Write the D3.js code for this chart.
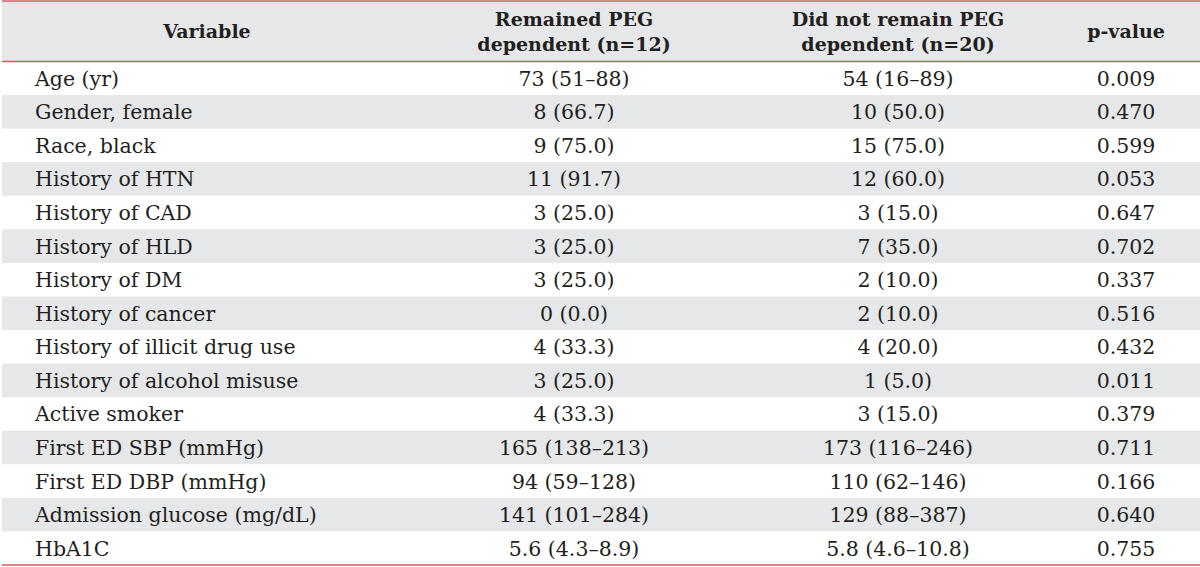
<!DOCTYPE html>
<html>
<head>
<meta charset="utf-8">
<script src="https://cdn.jsdelivr.net/npm/d3@7"></script>
<style>
  html, body { margin: 0; padding: 0; background: #ffffff; }
  svg { display: block; }
  text { font-family: "DejaVu Serif", serif; fill: #231f20; }
</style>
</head>
<body>
<svg id="chart" width="1200" height="567"></svg>
<script>
const headerLines = [
  ["Variable"],
  ["Remained PEG", "dependent (n=12)"],
  ["Did not remain PEG", "dependent (n=20)"],
  ["p-value"]
];
const variables = [
  "Age (yr)", "Gender, female", "Race, black", "History of HTN", "History of CAD",
  "History of HLD", "History of DM", "History of cancer", "History of illicit drug use",
  "History of alcohol misuse", "Active smoker", "First ED SBP (mmHg)", "First ED DBP (mmHg)",
  "Admission glucose (mg/dL)", "HbA1C"
];
const remained = [
  "73 (51–88)", "8 (66.7)", "9 (75.0)", "11 (91.7)", "3 (25.0)", "3 (25.0)", "3 (25.0)",
  "0 (0.0)", "4 (33.3)", "3 (25.0)", "4 (33.3)", "165 (138–213)", "94 (59–128)",
  "141 (101–284)", "5.6 (4.3–8.9)"
];
const notRemained = [
  "54 (16–89)", "10 (50.0)", "15 (75.0)", "12 (60.0)", "3 (15.0)", "7 (35.0)", "2 (10.0)",
  "2 (10.0)", "4 (20.0)", "1 (5.0)", "3 (15.0)", "173 (116–246)", "110 (62–146)",
  "129 (88–387)", "5.8 (4.6–10.8)"
];
const pValues = [
  "0.009", "0.470", "0.599", "0.053", "0.647", "0.702", "0.337", "0.516", "0.432",
  "0.011", "0.379", "0.711", "0.166", "0.640", "0.755"
];

const W = 1200, H = 567;
const left = 2, right = 1200;
const headTop = 1, headBottom = 61.5, tableBottom = 565;
const gray = "#e6e7e8", red = "#d35a5f";
const bodySize = 20.5, headSize = 19;

const svg = d3.select("#chart");

const rows = variables.map((v, i) => ({ i, cells: [v, remained[i], notRemained[i], pValues[i]] }));

const y = d3.scaleBand().domain(d3.range(rows.length)).range([headBottom, tableBottom]).padding(0);
const colCenter = d3.scaleOrdinal().domain([0, 1, 2, 3]).range([207, 574, 898, 1126]);
const colLeftX = 35;

// header background
svg.append("rect").attr("x", left).attr("y", headTop).attr("width", right - left)
  .attr("height", headBottom - headTop).attr("fill", gray);

// row stripes
svg.selectAll("rect.stripe").data(rows.filter(r => r.i % 2 === 1)).join("rect")
  .attr("class", "stripe")
  .attr("x", left).attr("width", right - left)
  .attr("y", d => y(d.i)).attr("height", y.bandwidth())
  .attr("fill", gray);

// header text
const hdr = svg.append("g");
headerLines.forEach((lines, c) => {
  const n = lines.length;
  const mid = (headTop + headBottom) / 2;
  lines.forEach((t, k) => {
    hdr.append("text")
      .attr("x", colCenter(c))
      .attr("y", mid + 7 + (k - (n - 1) / 2) * 25)
      .attr("text-anchor", "middle")
      .attr("font-weight", "bold")
      .attr("font-size", headSize)
      .text(t);
  });
});

// body text
const rowG = svg.selectAll("g.row").data(rows).join("g")
  .attr("class", "row")
  .attr("transform", d => `translate(0,${y(d.i) + y.bandwidth() / 2})`);

rowG.selectAll("text").data(d => d.cells.map((t, c) => ({ t, c }))).join("text")
  .attr("x", d => d.c === 0 ? colLeftX : colCenter(d.c))
  .attr("y", 7.5)
  .attr("text-anchor", d => d.c === 0 ? "start" : "middle")
  .attr("font-size", bodySize)
  .text(d => d.t);

// red rules
[headTop, headBottom, tableBottom].forEach(yy => {
  svg.append("line").attr("x1", left).attr("x2", right)
    .attr("y1", yy).attr("y2", yy)
    .attr("stroke", red).attr("stroke-width", 1.5);
});
</script>
</body>
</html>
